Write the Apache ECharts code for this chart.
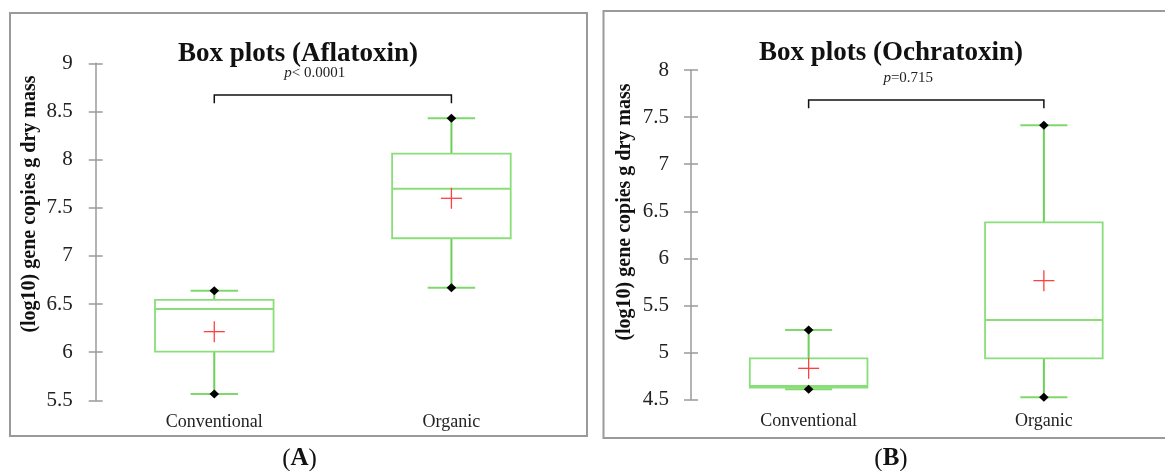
<!DOCTYPE html>
<html>
<head>
<meta charset="utf-8">
<script src="https://cdn.jsdelivr.net/npm/echarts@6/dist/echarts.min.js"></script>
<style>
html,body{margin:0;padding:0;background:#fff;}
#chart{width:1165px;height:471px;}
</style>
</head>
<body>
<div id="chart"></div>
<script>
// ---- data (min, Q1, median, Q3, max) ----
const categories = ['Conventional', 'Organic'];
const aflatoxinConventional = [5.566, 6.005, 6.448, 6.542, 6.638];
const aflatoxinOrganic = [6.670, 7.183, 7.698, 8.061, 8.429];
const aflatoxinMeans = [6.213, 7.598];
const ochratoxinConventional = [4.610, 4.629, 4.645, 4.939, 5.240];
const ochratoxinOrganic = [4.525, 4.939, 5.346, 6.383, 7.413];
const ochratoxinMeans = [4.833, 5.764];
const aflatoxinAxis = [5.5, 9, 0.5];   // min, max, interval
const ochratoxinAxis = [4.5, 8, 0.5];
const titles = ['Box plots (Aflatoxin)', 'Box plots (Ochratoxin)'];
const pTexts = ['< 0.0001', '=0.715'];
const panelLetters = ['A', 'B'];
const yTitle = '(log10) gene copies g dry mass';

const SERIF = '"Liberation Serif", "DejaVu Serif", serif';
const BOX_COLOR = '#8ade7a';
const WHISKER_COLOR = '#6ccf58';
const CAP_COLOR = '#7fd86c';
const MEAN_COLOR = '#ff4040';
const AXIS_GRAY = '#9a9a9a';

function rows(conv, org, means) {
  return [
    [0].concat(conv, [means[0]]),
    [1].concat(org, [means[1]])
  ];
}

function renderBox(params, api) {
  const cat = api.value(0);
  const vmin = api.value(1), q1 = api.value(2), med = api.value(3),
        q3 = api.value(4), vmax = api.value(5), mean = api.value(6);
  const band = api.size([1, 0])[0];
  const hw = band * 0.25;
  const cw = band * 0.1;
  const pMin = api.coord([cat, vmin]);
  const pQ1 = api.coord([cat, q1]);
  const pMed = api.coord([cat, med]);
  const pQ3 = api.coord([cat, q3]);
  const pMax = api.coord([cat, vmax]);
  const pMean = api.coord([cat, mean]);
  const x = pMin[0];
  const m = 10.5;
  const diamond = (p) => ({
    type: 'polygon',
    shape: { points: [[p[0], p[1] - 4.5], [p[0] + 4.8, p[1]], [p[0], p[1] + 4.5], [p[0] - 4.8, p[1]]] },
    style: { fill: '#000' }, z2: 10
  });
  return {
    type: 'group',
    children: [
      { type: 'line', shape: { x1: x, y1: pMax[1], x2: x, y2: pQ3[1] }, style: { stroke: WHISKER_COLOR, lineWidth: 2 } },
      { type: 'line', shape: { x1: x, y1: pQ1[1], x2: x, y2: pMin[1] }, style: { stroke: WHISKER_COLOR, lineWidth: 2 } },
      { type: 'line', shape: { x1: x - cw, y1: pMax[1], x2: x + cw, y2: pMax[1] }, style: { stroke: CAP_COLOR, lineWidth: 2 } },
      { type: 'line', shape: { x1: x - cw, y1: pMin[1], x2: x + cw, y2: pMin[1] }, style: { stroke: CAP_COLOR, lineWidth: 2 } },
      { type: 'rect', shape: { x: x - hw, y: pQ3[1], width: hw * 2, height: pQ1[1] - pQ3[1] },
        style: { fill: 'none', stroke: BOX_COLOR, lineWidth: 1.8 } },
      { type: 'line', shape: { x1: x - hw, y1: pMed[1], x2: x + hw, y2: pMed[1] }, style: { stroke: BOX_COLOR, lineWidth: 2 } },
      { type: 'line', shape: { x1: pMean[0] - m, y1: pMean[1], x2: pMean[0] + m, y2: pMean[1] }, style: { stroke: MEAN_COLOR, lineWidth: 1.3 }, z2: 5 },
      { type: 'line', shape: { x1: pMean[0], y1: pMean[1] - m, x2: pMean[0], y2: pMean[1] + m }, style: { stroke: MEAN_COLOR, lineWidth: 1.3 }, z2: 5 },
      diamond(pMax),
      diamond(pMin)
    ]
  };
}

function makeBracket(pText) {
  return function (params, api) {
    const lvl = api.value(2);
    const drop = api.value(3);
    const a = api.coord([api.value(0), lvl]);
    const b = api.coord([api.value(1), lvl]);
    const a2 = api.coord([api.value(0), drop]);
    const cx = (a[0] + b[0]) / 2 - 18;
    return {
      type: 'group',
      children: [
        { type: 'polyline', shape: { points: [[a[0], a2[1]], [a[0], a[1]], [b[0], b[1]], [b[0], a2[1]]] },
          style: { stroke: '#111', lineWidth: 1.5, fill: 'none' } },
        { type: 'text', x: cx, y: a[1] - 22,
          style: {
            text: '{i|p}{n|' + pText + '}',
            align: 'center', verticalAlign: 'middle',
            rich: {
              i: { fontFamily: SERIF, fontStyle: 'italic', fontSize: 15, fill: '#222' },
              n: { fontFamily: SERIF, fontSize: 15, fill: '#222' }
            }
          } }
      ]
    };
  };
}

function yAxes(gridIndex, ax, margin) {
  const common = { type: 'value', gridIndex: gridIndex, position: 'left', offset: 0,
    min: ax[0], max: ax[1], interval: ax[2], splitLine: { show: false } };
  return [
    Object.assign({}, common, {
      axisLine: { show: true, lineStyle: { color: AXIS_GRAY, width: 1.5 } },
      axisTick: { show: true, inside: false, length: 7, lineStyle: { color: AXIS_GRAY, width: 1.5 } },
      axisLabel: { margin: margin, fontFamily: SERIF, fontSize: 21, color: '#222' }
    }),
    Object.assign({}, common, {
      axisLine: { show: false },
      axisTick: { show: true, inside: true, length: 7, lineStyle: { color: AXIS_GRAY, width: 1.5 } },
      axisLabel: { show: false }
    })
  ];
}

function xAxis(gridIndex) {
  return {
    type: 'category', gridIndex: gridIndex, data: categories,
    axisLine: { show: false }, axisTick: { show: false },
    axisLabel: { margin: 13, fontFamily: SERIF, fontSize: 18, color: '#222' }
  };
}

const chart = echarts.init(document.getElementById('chart'), null, { renderer: 'canvas' });

const option = {
  backgroundColor: '#fff',
  animation: false,
  title: [
    { text: titles[0], left: 298, top: 41, padding: 0, textAlign: 'center',
      textStyle: { fontFamily: SERIF, fontWeight: 'bold', fontSize: 27, color: '#111' } },
    { text: titles[1], left: 891, top: 40, padding: 0, textAlign: 'center',
      textStyle: { fontFamily: SERIF, fontWeight: 'bold', fontSize: 27, color: '#111' } }
  ],
  grid: [
    { left: 95.7, top: 63.3, width: 474.3, height: 337 },
    { left: 691, top: 70, width: 470.5, height: 329.7 }
  ],
  xAxis: [xAxis(0), xAxis(1)],
  yAxis: yAxes(0, aflatoxinAxis, 23).concat(yAxes(1, ochratoxinAxis, 22)),
  series: [
    { type: 'custom', name: 'Aflatoxin', xAxisIndex: 0, yAxisIndex: 0,
      renderItem: renderBox, encode: { x: 0, y: [1, 2, 3, 4, 5, 6] },
      data: rows(aflatoxinConventional, aflatoxinOrganic, aflatoxinMeans) },
    { type: 'custom', name: 'Ochratoxin', xAxisIndex: 1, yAxisIndex: 2,
      renderItem: renderBox, encode: { x: 0, y: [1, 2, 3, 4, 5, 6] },
      data: rows(ochratoxinConventional, ochratoxinOrganic, ochratoxinMeans) },
    { type: 'custom', xAxisIndex: 0, yAxisIndex: 0, silent: true,
      renderItem: makeBracket(pTexts[0]), encode: { x: [0, 1], y: [2, 3] },
      data: [[0, 1, 8.671, 8.584]] },
    { type: 'custom', xAxisIndex: 1, yAxisIndex: 2, silent: true,
      renderItem: makeBracket(pTexts[1]), encode: { x: [0, 1], y: [2, 3] },
      data: [[0, 1, 7.682, 7.593]] }
  ],
  graphic: [
    { type: 'rect', shape: { x: 10, y: 13, width: 577, height: 423 },
      style: { fill: 'none', stroke: AXIS_GRAY, lineWidth: 2 }, z: -1 },
    { type: 'rect', shape: { x: 603.5, y: 11, width: 565, height: 427 },
      style: { fill: 'none', stroke: AXIS_GRAY, lineWidth: 2 }, z: -1 },
    { type: 'text', x: 30, y: 204, rotation: Math.PI / 2,
      style: { text: yTitle, fontFamily: SERIF, fontWeight: 'bold', fontSize: 20, fill: '#111',
               align: 'center', verticalAlign: 'middle' } },
    { type: 'text', x: 625, y: 212, rotation: Math.PI / 2,
      style: { text: yTitle, fontFamily: SERIF, fontWeight: 'bold', fontSize: 20, fill: '#111',
               align: 'center', verticalAlign: 'middle' } },
    { type: 'text', x: 299.5, y: 459,
      style: { text: '({b|' + panelLetters[0] + '})', fontFamily: SERIF, fontSize: 25, fill: '#111',
               align: 'center', verticalAlign: 'middle',
               rich: { b: { fontFamily: SERIF, fontWeight: 'bold', fontSize: 25, fill: '#111' } } } },
    { type: 'text', x: 891, y: 459,
      style: { text: '({b|' + panelLetters[1] + '})', fontFamily: SERIF, fontSize: 25, fill: '#111',
               align: 'center', verticalAlign: 'middle',
               rich: { b: { fontFamily: SERIF, fontWeight: 'bold', fontSize: 25, fill: '#111' } } } }
  ]
};
chart.setOption(option);
</script>
</body>
</html>
